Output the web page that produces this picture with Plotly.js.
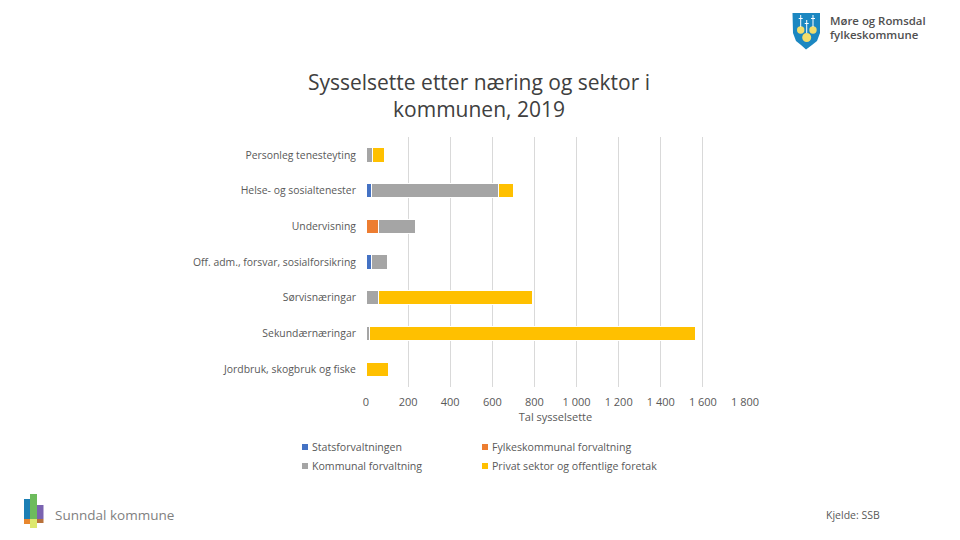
<!DOCTYPE html>
<html>
<head>
<meta charset="utf-8">
<script src="https://cdn.plot.ly/plotly-3.0.1.min.js"></script>
<style>html,body{margin:0;padding:0;background:#fff}#c{width:960px;height:540px}</style>
</head>
<body>
<div id="c"></div>
<script>
const categories = ["Jordbruk, skogbruk og fiske","Sekundærnæringar","Sørvisnæringar","Off. adm., forsvar, sosialforsikring","Undervisning","Helse- og sosialtenester","Personleg tenesteyting"];
const statsforvaltningen = [0,0,0,28,0,24,0];
const fylkeskommunal = [0,0,0,0,58,0,0];
const kommunal = [3,18,58,72,176,606,29];
const privat = [105,1546,732,0,0,72,58];
const seriesNames = ["Statsforvaltningen","Fylkeskommunal forvaltning","Kommunal forvaltning","Privat sektor og offentlige foretak"];
const seriesColors = ["#4472C4","#ED7D31","#A5A5A5","#FFC000"];
const seriesValues = [statsforvaltningen,fylkeskommunal,kommunal,privat];
const xTicks = [0,200,400,600,800,1000,1200,1400,1600,1800];

const W=960,H=540,L=366,R=745,T=137,B=387;
const FONT='"Open Sans", sans-serif', GREY='#595959';
const px=x=>(x-L)/(R-L), py=y=>(B-y)/(B-T);
const rect=(x0,y0,x1,y1,color)=>({type:'rect',xref:'paper',yref:'paper',x0:px(x0),x1:px(x1),y0:py(y1),y1:py(y0),fillcolor:color,line:{width:0},layer:'above'});
const pathOf=(pts,color)=>({type:'path',xref:'paper',yref:'paper',
  path:pts.map((p,i)=>(i?'L':'M')+px(p[0])+','+py(p[1])).join(' ')+' Z',
  fillcolor:color,line:{width:0},layer:'above'});
const circle=(cx,cy,r,color)=>({type:'circle',xref:'paper',yref:'paper',x0:px(cx-r),x1:px(cx+r),y0:py(cy+r),y1:py(cy-r),fillcolor:color,line:{width:0},layer:'above'});
const text=(x,y,t,size,color,anchor='left',extra={})=>Object.assign({xref:'paper',yref:'paper',x:px(x),y:py(y),text:t,showarrow:false,xanchor:anchor,yanchor:'middle',
  font:{family:FONT,size,color},borderpad:0,borderwidth:0},extra);

const traces = seriesNames.map((name,i)=>({
  type:'bar',orientation:'h',name,y:categories,x:seriesValues[i],
  marker:{color:seriesColors[i],line:{color:'#ffffff',width:1}},showlegend:false,hoverinfo:'x+y+name'
}));

const legendSlots=[[302,446.5],[482,446.5],[302,465.5],[482,465.5]];
const shapes=[], annotations=[];
seriesNames.forEach((n,i)=>{
  const [x,y]=legendSlots[i];
  shapes.push(rect(x,y-2.5,x+6,y+3.5,seriesColors[i]));
  annotations.push(text(x+10,y,n,10.6,GREY));
});
// Fylke logo
shapes.push(pathOf([[792.5,13],[820,13],[820,33],[817,41],[812,45],[806,49.5],[801,45],[796,41],[793,33]],'#1B87C1'));
shapes.push(circle(800.7,30,3.7,'#F3DD6B'),circle(813,30,3.7,'#F3DD6B'),circle(806.7,37.5,4.5,'#F3DD6B'));
[[800.7,15,27],[813,15,27],[806.7,20,33]].forEach(([x,a,b])=>{
  shapes.push(rect(x-.5,a,x+.5,b,'#FFFFFF'),rect(x-2,a+3,x+2,a+4,'#FFFFFF'));
});
const logoFont={family:FONT,size:11.4,color:'#505050',weight:600};
annotations.push(text(830,20.5,'Møre og Romsdal',11.4,'#505050','left',{font:logoFont}));
annotations.push(text(830,34.5,'fylkeskommune',11.4,'#505050','left',{font:logoFont}));
// Sunndal logo
shapes.push(rect(24,499,30,519,'#1B7FB5'),rect(30,494,37,519,'#6DBB5C'),rect(37,505,43.5,519,'#7A63B0'),
  rect(24,519,30,524,'#E8872E'),rect(30,519,37,528,'#DDE86E'),rect(37,519,43.5,523,'#B8713A'));
annotations.push(text(55,515,'Sunndal kommune',13.5,'#7f7f7f'));
annotations.push(text(880,515,'Kjelde: SSB',10.5,'#595959','right'));

const layout={
  width:W,height:H,margin:{l:L,r:W-R,t:T,b:H-B,pad:0},
  paper_bgcolor:'#fff',plot_bgcolor:'#fff',barmode:'stack',bargap:0.6,showlegend:false,
  separators:', ',
  font:{family:FONT,size:11,color:GREY},
  title:{text:'Sysselsette etter næring og sektor i<br>kommunen, 2019',x:479/W,xanchor:'center',xref:'container',
    y:1-90/H,yanchor:'middle',font:{family:FONT,size:21,color:'#404040'}},
  xaxis:{range:[0,1800],tickvals:xTicks,tickformat:',d',showgrid:true,gridcolor:'#D9D9D9',gridwidth:1,zeroline:false,showline:false,
    ticks:'outside',ticklen:5,tickcolor:'rgba(0,0,0,0)',
    tickfont:{family:FONT,size:11,color:GREY},title:{text:'Tal sysselsette',font:{family:FONT,size:11,color:GREY},standoff:0},automargin:false},
  yaxis:{type:'category',categoryorder:'array',categoryarray:categories,showgrid:false,zeroline:false,showline:false,ticks:'outside',ticklen:7,tickcolor:'rgba(0,0,0,0)',
    tickfont:{family:FONT,size:10.4,color:GREY},automargin:false},
  shapes,annotations
};
Plotly.newPlot('c',traces,layout,{displayModeBar:false,staticPlot:true});
</script>
</body>
</html>
